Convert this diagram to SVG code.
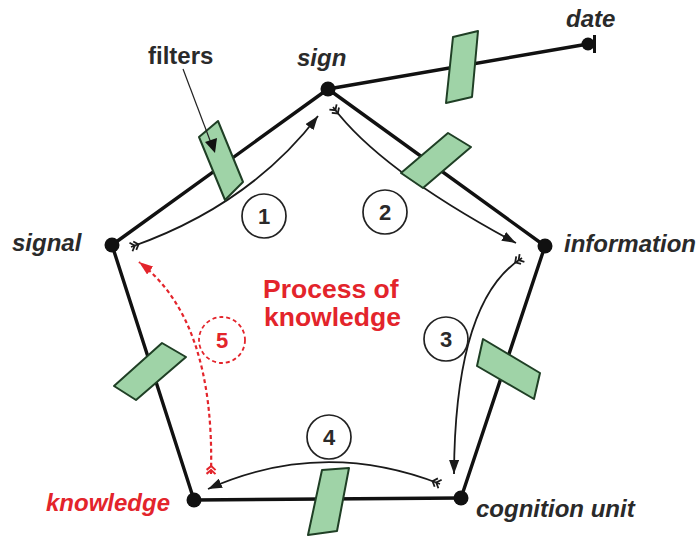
<svg xmlns="http://www.w3.org/2000/svg" width="697" height="536" viewBox="0 0 697 536">
  <style>
    .edge { fill: none; stroke: #111; stroke-width: 3.4; stroke-linecap: round; }
    .flow { fill: none; stroke: #1a1a1a; stroke-width: 1.8; }
    .flow-red { fill: none; stroke: #e3242b; stroke-width: 2.2; stroke-dasharray: 4 3; }
    .dot { fill: #111; }
    .filter { fill: #9fd3a7; stroke: #1f3f25; stroke-width: 2; stroke-linejoin: round; }
    .num { fill: #fff; stroke: #222; stroke-width: 1.7; }
    .num-red { fill: #fff; stroke: #e3242b; stroke-width: 1.8; stroke-dasharray: 4 3; }
    .lbl { font-family: "Liberation Sans", Arial, sans-serif; font-weight: bold; font-style: italic; font-size: 24px; fill: #2a2a2a; }
    .numtxt { font-family: "Liberation Sans", Arial, sans-serif; font-weight: bold; font-size: 22px; fill: #2a2a2a; text-anchor: middle; }
    .red { fill: #e3242b; }
    .title { font-family: "Liberation Sans", Arial, sans-serif; font-weight: bold; font-size: 26.5px; fill: #e3242b; }
  </style>
  <defs>
    <marker id="head" viewBox="0 0 14 10" refX="14" refY="5" markerWidth="14" markerHeight="10" markerUnits="userSpaceOnUse" orient="auto">
      <path d="M0,0 L14,5 L0,10 Z" fill="#1a1a1a"/>
    </marker>
    <marker id="head-red" viewBox="0 0 14 10" refX="14" refY="5" markerWidth="14" markerHeight="10" markerUnits="userSpaceOnUse" orient="auto">
      <path d="M0,0 L14,5 L0,10 Z" fill="#e3242b"/>
    </marker>
    <marker id="tail" viewBox="-1 -6 12 12" refX="0" refY="0" markerWidth="12" markerHeight="12" markerUnits="userSpaceOnUse" orient="auto">
      <path d="M0,-4.5 L4,0 L0,4.5 M4,-4.5 L8,0 L4,4.5" fill="none" stroke="#1a1a1a" stroke-width="1.8"/>
    </marker>
    <marker id="tail-red" viewBox="-1 -6 12 12" refX="0" refY="0" markerWidth="12" markerHeight="12" markerUnits="userSpaceOnUse" orient="auto">
      <path d="M0,-4.5 L4,0 L0,4.5 M4,-4.5 L8,0 L4,4.5" fill="none" stroke="#e3242b" stroke-width="2"/>
    </marker>
  </defs>

  <!-- connectors: pentagon edges, the date link and the process flows -->
  <g id="connectors">
    <path class="edge" d="M328,89 L112,245"/>
    <path class="edge" d="M112,245 L194,500"/>
    <path class="edge" d="M194,500 L461,498"/>
    <path class="edge" d="M461,498 L545,246"/>
    <path class="edge" d="M545,246 L328,89"/>
    <path class="edge" d="M328,89 L588,44"/>

    <path class="flow" d="M131,247 Q250,205 318,116" marker-start="url(#tail)" marker-end="url(#head)"/>
    <path class="flow" d="M333,107 Q380,170 516,243" marker-start="url(#tail)" marker-end="url(#head)"/>
    <path class="flow" d="M522,258 Q455,300 454,474" marker-start="url(#tail)" marker-end="url(#head)"/>
    <path class="flow" d="M440,484 Q322,438 208,489" marker-start="url(#tail)" marker-end="url(#head)"/>
    <path class="flow-red" d="M211,474 Q215,320 139,262" marker-start="url(#tail-red)" marker-end="url(#head-red)"/>
  </g>

  <!-- filters sitting on the links -->
  <g id="filters">
    <polygon id="filter-sign-signal" class="filter" points="199,137 218,121 243,182 225,200"/>
    <polygon id="filter-sign-date" class="filter" points="453,37 478,31 472,97 446,103"/>
    <polygon id="filter-sign-information" class="filter" points="401,173 448,133 471,147 423,188"/>
    <polygon id="filter-information-cognition" class="filter" points="483,339 477,366 534,399 540,373"/>
    <polygon id="filter-signal-knowledge" class="filter" points="162,343 186,357 136,400 114,386"/>
    <polygon id="filter-knowledge-cognition" class="filter" points="322,470 349,468 337,531 308,535"/>
  </g>

  <!-- "filters" caption with its pointer -->
  <g id="caption-filters">
    <text x="148" y="64" font-family="'Liberation Sans', Arial, sans-serif" font-weight="bold" font-size="24" fill="#2a2a2a">filters</text>
    <path d="M183,69 L211,143" fill="none" stroke="#222" stroke-width="1.2"/>
    <path d="M205,142 L215,153 L217,138 Z" fill="#111"/>
  </g>

  <g id="node-sign">
    <circle class="dot" cx="328" cy="89" r="7.5"/>
    <text class="lbl" x="297" y="66">sign</text>
  </g>
  <g id="node-date">
    <circle class="dot" cx="588" cy="44" r="6.5"/>
    <rect x="593" y="35" width="3" height="18" fill="#111"/>
    <text class="lbl" x="566" y="27">date</text>
  </g>
  <g id="node-signal">
    <circle class="dot" cx="112" cy="245" r="7.5"/>
    <text class="lbl" x="12" y="251">signal</text>
  </g>
  <g id="node-information">
    <circle class="dot" cx="545" cy="246" r="7.5"/>
    <text class="lbl" x="564" y="252">information</text>
  </g>
  <g id="node-cognition-unit">
    <circle class="dot" cx="461" cy="498" r="7.5"/>
    <text class="lbl" x="476" y="517">cognition unit</text>
  </g>
  <g id="node-knowledge">
    <circle class="dot" cx="194" cy="500" r="7.5"/>
    <text class="lbl red" x="170" y="511" text-anchor="end">knowledge</text>
  </g>

  <g id="title">
    <text class="title" x="263" y="298">Process of</text>
    <text class="title" x="264" y="326">knowledge</text>
  </g>

  <g id="step-1">
    <circle class="num" cx="264" cy="216" r="22"/>
    <text class="numtxt" x="264" y="224">1</text>
  </g>
  <g id="step-2">
    <circle class="num" cx="385" cy="212" r="22"/>
    <text class="numtxt" x="385" y="220">2</text>
  </g>
  <g id="step-3">
    <circle class="num" cx="446" cy="339" r="22"/>
    <text class="numtxt" x="446" y="347">3</text>
  </g>
  <g id="step-4">
    <circle class="num" cx="329" cy="437" r="22"/>
    <text class="numtxt" x="329" y="445">4</text>
  </g>
  <g id="step-5">
    <circle class="num-red" cx="222" cy="340" r="23"/>
    <text class="numtxt red" x="222" y="348">5</text>
  </g>
</svg>
